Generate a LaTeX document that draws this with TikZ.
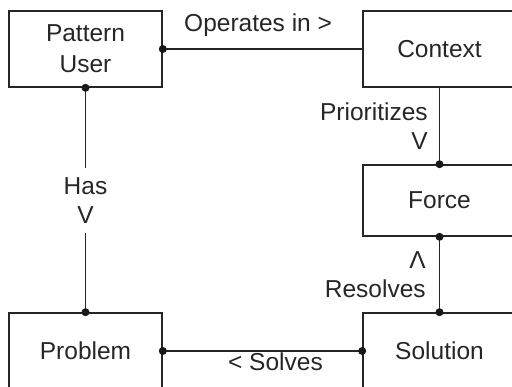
\documentclass[tikz,border=0pt]{standalone}
\usepackage{fontspec}
\setmainfont{Liberation Sans}
\begin{document}
\begin{tikzpicture}[x=1pt,y=-1pt,
  box/.style={draw=black!85, line width=1.6pt, minimum width=153pt, minimum height=76pt,
    inner sep=0pt, align=center, text=black!85, font=\fontsize{24.5}{31}\selectfont},
  lbl/.style={inner sep=0pt, text=black!85, font=\fontsize{24.5}{29}\selectfont},
  conn/.style={draw=black!85, line width=1.7pt},
  dot/.style={fill=black!90}]
\useasboundingbox (0,0) rectangle (512,387);
\clip (0,0) rectangle (512,387);
\node[box] (pu) at (85.5,49) {Pattern\\User};
\node[box] (ctx) at (439.5,49) {Context};
\node[box, minimum height=71pt] (force) at (439.5,200.5) {Force};
\node[box] (prob) at (85.5,351) {Problem};
\node[box] (sol) at (439.5,351) {Solution};

\draw[conn] (pu.east) -- node[lbl, pos=0.478, above=12pt] (op) {Operates in >} (ctx.west);
\draw[conn] (pu.south) -- (prob.north);
\node[lbl, fill=white, minimum height=65pt, align=center] (has) at (85.5,200.5) {Has\\V};
\draw[conn] (ctx.south) -- node[lbl, midway, left=11pt, align=right] (pri) {Prioritizes\\V} (force.north);
\draw[conn] (force.south) -- node[lbl, midway, left=13pt, align=right] (res) {Λ\\Resolves} (sol.north);
\draw[conn] (prob.east) -- node[lbl, pos=0.565, below=1pt] (sv) {< Solves} (sol.west);

\foreach \p in {pu.east, pu.south, force.north, force.south, sol.north, prob.north, prob.east, sol.west}
  \fill[dot] (\p) circle (4pt);
\end{tikzpicture}
\end{document}
